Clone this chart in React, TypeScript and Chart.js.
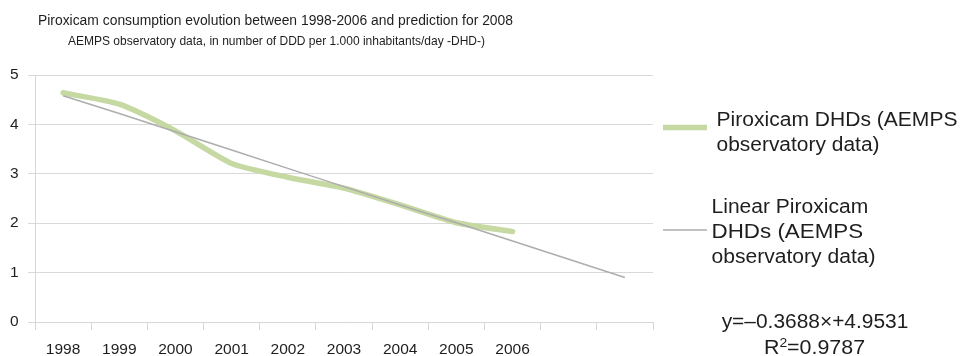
import React, { useEffect, useRef } from 'react';
import { Chart, registerables } from 'chart.js';

Chart.register(...registerables);

// ---- data ----
const years = ['1998', '1999', '2000', '2001', '2002', '2003', '2004', '2005', '2006', '2007', '2008'];
const tickLabels = ['1998', '1999', '2000', '2001', '2002', '2003', '2004', '2005', '2006', '', ''];
const piroxicamDHD = [4.64, 4.41, 3.87, 3.21, 2.93, 2.71, 2.37, 2.01, 1.83, null, null];
const linearTrend = [4.58, 4.22, 3.85, 3.48, 3.11, 2.74, 2.37, 2.01, 1.64, 1.27, 0.9];
const yMin = 0;
const yMax = 5;
const yStep = 1;

const titleText = 'Piroxicam consumption evolution between 1998-2006 and prediction for 2008';
const subtitleText = 'AEMPS observatory data, in number of DDD per 1.000 inhabitants/day -DHD-)';
const seriesNames = [
  'Piroxicam DHDs (AEMPS observatory data)',
  'Linear Piroxicam DHDs (AEMPS observatory data)',
];
const legendLines = [
  ['Piroxicam DHDs (AEMPS', 'observatory data)'],
  ['Linear Piroxicam', 'DHDs (AEMPS', 'observatory data)'],
];
const equationText = 'y=\u20130.3688\u00d7+4.9531';
const rSquaredValue = '0.9787';

const FONT = '"Liberation Sans", Arial, Helvetica, sans-serif';
const TEXT = '#1e1e1e';

function fitText(ctx: CanvasRenderingContext2D, text: string, x: number, y: number, size: number, width: number, align: 'left' | 'center') {
  ctx.font = `${size}px ${FONT}`;
  const w = ctx.measureText(text).width;
  const s = width / w;
  const left = align === 'center' ? x - width / 2 : x;
  ctx.save();
  ctx.translate(left, y);
  ctx.scale(s, 1);
  ctx.textAlign = 'left';
  ctx.textBaseline = 'alphabetic';
  ctx.fillStyle = TEXT;
  ctx.fillText(text, 0, 0);
  ctx.restore();
}

const overlayPlugin = {
  id: 'overlayText',
  afterDraw(chart: any) {
    const ctx: CanvasRenderingContext2D = chart.ctx;
    ctx.save();
    // titles
    fitText(ctx, titleText, 275.5, 24.5, 15.5, 475, 'center');
    fitText(ctx, subtitleText, 276.5, 45, 13, 417, 'center');

    // legend
    const ds = chart.data.datasets;
    const legendY = [127.5, 230];
    const lineBaselines = [[126, 151], [212.5, 238, 263]];
    const textLeft = [716.5, 711.5];
    const widths = [[241, 163], [156.7, 151.7, 164]];
    for (let i = 0; i < 2; i++) {
      ctx.save();
      ctx.strokeStyle = ds[i].borderColor;
      ctx.lineWidth = ds[i].borderWidth;
      ctx.lineCap = 'butt';
      ctx.beginPath();
      ctx.moveTo(663, legendY[i]);
      ctx.lineTo(707, legendY[i]);
      ctx.stroke();
      ctx.restore();
      legendLines[i].forEach((t, j) => {
        fitText(ctx, t, textLeft[i], lineBaselines[i][j], 20, widths[i][j], 'left');
      });
    }

    // trend equation
    fitText(ctx, equationText, 815, 328, 20, 186.7, 'center');
    // R^2 with superscript
    const size = 20;
    const sx = 1.07;
    ctx.font = `${size}px ${FONT}`;
    const wR = ctx.measureText('R').width;
    const rest = '=' + rSquaredValue;
    const wRest = ctx.measureText(rest).width;
    ctx.font = `13px ${FONT}`;
    const wSup = ctx.measureText('2').width;
    const total = (wR + wSup + wRest) * sx;
    const x = 814.5 - total / 2;
    const base = 354;
    ctx.fillStyle = TEXT;
    ctx.textBaseline = 'alphabetic';
    ctx.textAlign = 'left';
    ctx.save();
    ctx.translate(x, base);
    ctx.scale(sx, 1);
    ctx.font = `${size}px ${FONT}`;
    ctx.fillText('R', 0, 0);
    ctx.font = `13px ${FONT}`;
    ctx.fillText('2', wR, -7.5);
    ctx.font = `${size}px ${FONT}`;
    ctx.fillText(rest, wR + wSup, 0);
    ctx.restore();
    ctx.restore();
  },
};

export default function App() {
  const ref = useRef<HTMLCanvasElement | null>(null);

  useEffect(() => {
    if (!ref.current) return;
    const chart = new Chart(ref.current, {
      type: 'line',
      data: {
        labels: years,
        datasets: [
          {
            label: seriesNames[0],
            data: piroxicamDHD,
            borderColor: '#c6d9a2',
            borderWidth: 5.5,
            tension: 0.2,
            borderCapStyle: 'round',
            borderJoinStyle: 'round',
            pointRadius: 0,
            fill: false,
            order: 1,
          },
          {
            label: seriesNames[1],
            data: linearTrend,
            borderColor: '#adadad',
            borderWidth: 1.5,
            tension: 0,
            pointRadius: 0,
            fill: false,
            order: 0,
          },
        ],
      },
      options: {
        animation: false,
        responsive: false,
        maintainAspectRatio: false,
        layout: { padding: { top: 75, right: 307, left: 0, bottom: 0 } },
        plugins: {
          legend: { display: false },
          title: { display: false },
          tooltip: { enabled: false },
        },
        scales: {
          x: {
            type: 'category',
            offset: true,
            grid: {
              offset: true,
              drawOnChartArea: false,
              drawTicks: true,
              tickLength: 8,
              color: '#d6d6d6',
              lineWidth: 1,
            },
            border: { color: '#d6d6d6', width: 1 },
            ticks: {
              autoSkip: false,
              maxRotation: 0,
              padding: 10,
              color: TEXT,
              font: { family: FONT, size: 15.5 },
              callback: (_v: any, i: number) => tickLabels[i],
            },
            afterFit: (s: any) => {
              s.height = 34;
            },
          },
          y: {
            min: yMin,
            max: yMax,
            ticks: {
              stepSize: yStep,
              padding: 9.5,
              color: TEXT,
              font: { family: FONT, size: 15.5 },
            },
            grid: { color: '#d9d9d9', tickLength: 7, lineWidth: 1 },
            border: { color: '#d6d6d6', width: 1 },
            afterFit: (s: any) => {
              s.width = 35;
            },
          },
        },
      },
      plugins: [overlayPlugin],
    } as any);
    return () => chart.destroy();
  }, []);

  return (
    <div style={{ position: 'fixed', left: 0, top: 0, width: 960, height: 356, background: '#fff' }}>
      <canvas ref={ref} width={960} height={356} style={{ display: 'block', width: 960, height: 356 }} />
    </div>
  );
}
